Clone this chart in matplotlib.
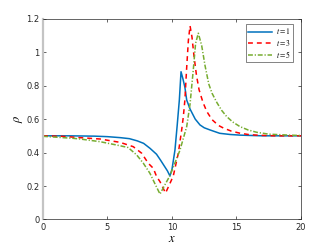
import matplotlib.pyplot as plt
import numpy as np

plt.rcParams["mathtext.fontset"] = "stix"

# t = 1
x1 = [0, 2, 4, 5, 6, 6.7, 7.3, 7.8, 8.3, 8.8, 9.1, 9.4, 9.65, 9.84, 10.0, 10.23,
      10.4, 10.57, 10.7, 10.85, 11.0, 11.14, 11.4, 11.8, 12.17, 12.5, 12.95, 13.7,
      14.5, 15.3, 17, 20]
rho1 = [0.5, 0.5, 0.498, 0.495, 0.489, 0.483, 0.47, 0.455, 0.425, 0.39, 0.356, 0.32,
        0.29, 0.26, 0.30, 0.415, 0.56, 0.714, 0.883, 0.84, 0.79, 0.714, 0.66, 0.60,
        0.565, 0.548, 0.535, 0.515, 0.508, 0.504, 0.5, 0.5]

# t = 3
x3 = [0, 1.5, 2.87, 4.42, 5.97, 7.0, 7.65, 8.16, 8.55, 8.81, 9.07, 9.5, 9.75, 10.1,
      10.49, 10.75, 10.88, 11.0, 11.14, 11.27, 11.4, 11.55, 11.7, 11.9, 12.1, 12.4,
      12.7, 13.1, 13.6, 14.0, 14.6, 15.3, 16.0, 16.8, 18, 20]
rho3 = [0.5, 0.497, 0.489, 0.481, 0.461, 0.435, 0.396, 0.336, 0.306, 0.256, 0.226,
        0.158, 0.2, 0.26, 0.396, 0.535, 0.615, 0.714, 0.91, 1.07, 1.157, 1.09, 0.98,
        0.86, 0.775, 0.70, 0.645, 0.597, 0.562, 0.546, 0.528, 0.515, 0.507, 0.503, 0.5, 0.5]

# t = 5
x5 = [0, 1, 2.35, 2.87, 4.42, 5.71, 6.6, 7.26, 7.78, 8.29, 8.7, 9.07, 9.4, 9.84,
      10.62, 11.14, 11.4, 11.65, 11.83, 12.04, 12.3, 12.56, 12.85, 13.1, 13.47, 13.85,
      14.24, 14.7, 15.27, 15.9, 16.57, 17.5, 19.1, 20]
rho5 = [0.497, 0.492, 0.485, 0.481, 0.465, 0.445, 0.43, 0.386, 0.336, 0.276, 0.21,
        0.152, 0.2, 0.262, 0.415, 0.555, 0.69, 0.894, 1.053, 1.113, 1.04, 0.92, 0.81,
        0.755, 0.70, 0.652, 0.615, 0.583, 0.555, 0.535, 0.521, 0.51, 0.504, 0.502]

fig = plt.figure(figsize=(3.32, 2.49), dpi=100)
ax = fig.add_axes([0.1295, 0.1185, 0.7771, 0.8065])

ax.plot(x1, rho1, color="#0072BD", lw=1.1, label="$t = 1$")
ax.plot(x3, rho3, color="#FF0000", lw=1.1, ls=(0, (3.2, 2.6)), label="$t = 3$")
ax.plot(x5, rho5, color="#77AC30", lw=1.1, ls=(0, (3.2, 1.2, 0.8, 1.2)), label="$t = 5$")

ax.set_xlim(0, 20)
ax.set_ylim(0, 1.2)
ax.set_xticks([0, 5, 10, 15, 20])
ax.set_yticks([0, 0.2, 0.4, 0.6, 0.8, 1.0, 1.2])
ax.set_yticklabels(["0", "0.2", "0.4", "0.6", "0.8", "1", "1.2"])
ax.tick_params(direction="in", length=2, width=0.5, labelsize=6, colors="#262626",
               top=True, right=True, pad=2.5)
for s in ["top", "right", "bottom"]:
    ax.spines[s].set_color("#262626")
    ax.spines[s].set_linewidth(0.5)
ax.spines["left"].set_color("#c4c4c4")
ax.spines["left"].set_linewidth(1.6)

ax.set_xlabel("$x$", fontsize=9, labelpad=0)
ax.set_ylabel(r"$\rho$", fontsize=9, labelpad=1)

leg = ax.legend(loc="upper right", fontsize=5.5, handlelength=3.1, handletextpad=0.5,
                frameon=True, fancybox=False, edgecolor="#262626", borderpad=0.3,
                labelspacing=0.15, borderaxespad=0, bbox_to_anchor=(0.969, 0.973))
leg.get_frame().set_linewidth(0.5)

fig.savefig("out.png", dpi=100)
